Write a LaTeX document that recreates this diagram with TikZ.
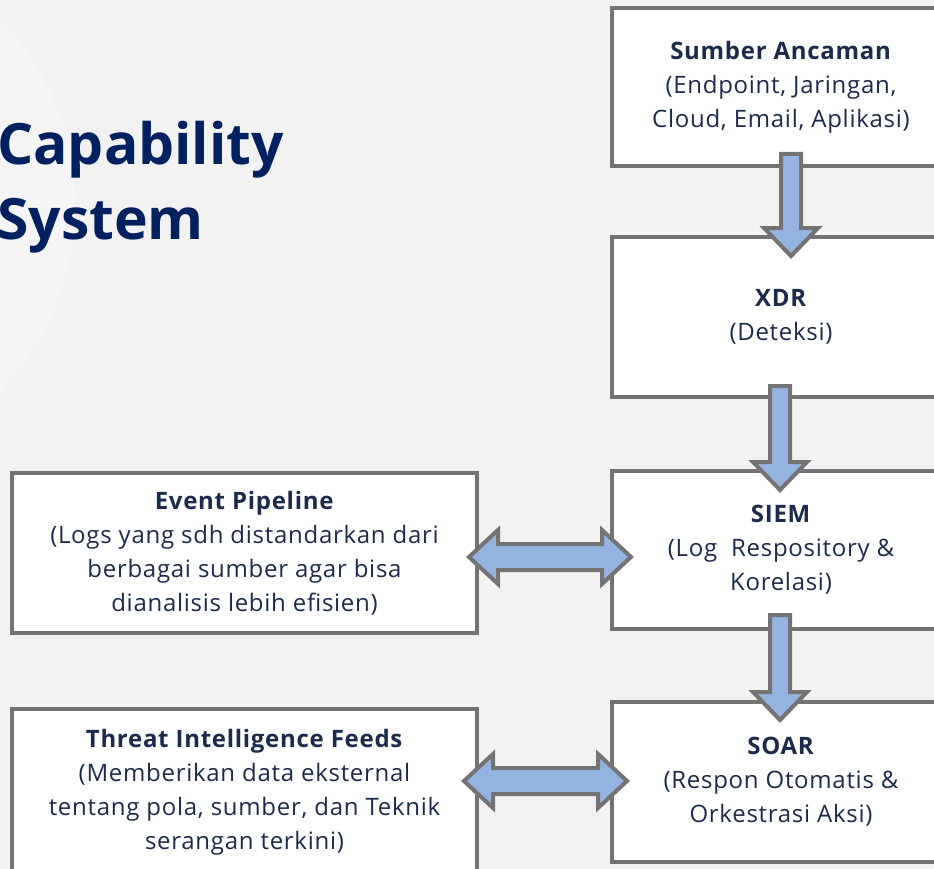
\documentclass[tikz,border=0pt]{standalone}
\usepackage{fontspec}
\setmainfont{Open Sans}
\newfontfamily\boxfont[LetterSpace=3]{Open Sans}
\usepackage{xcolor}
\usetikzlibrary{calc}

\definecolor{pagebg}{HTML}{F2F2F2}
\definecolor{titleblue}{HTML}{002060}
\definecolor{inktext}{HTML}{1C2B4B}
\definecolor{edgegray}{HTML}{737373}
\definecolor{arrowblue}{HTML}{95B3E0}

\tikzset{
  box/.style={draw=edgegray, line width=4.5pt, fill=white, align=center,
    text=inktext, font=\boxfont\fontsize{24}{34}\selectfont, inner sep=0pt},
  blockarrow/.style={draw=edgegray, line width=4pt, fill=arrowblue, line join=miter},
  titletext/.style={text=titleblue, font=\fontsize{57}{75}\selectfont\bfseries,
    anchor=base west, inner sep=0pt}
}

% down block arrow: x, shaft top, tip
\newcommand{\blockdown}[3]{%
  \draw[blockarrow] ({#1-10},#2) -- ({#1+10},#2) -- ({#1+10},{#3-28})
    -- ({#1+27},{#3-28}) -- (#1,#3) -- ({#1-27},{#3-28}) -- ({#1-10},{#3-28}) -- cycle;}
% double block arrow: y, left tip, right tip
\newcommand{\blockboth}[3]{%
  \draw[blockarrow] (#2,#1) -- ({#2+29},{#1-27}) -- ({#2+29},{#1-13})
    -- ({#3-29},{#1-13}) -- ({#3-29},{#1-27}) -- (#3,#1) -- ({#3-29},{#1+27})
    -- ({#3-29},{#1+13}) -- ({#2+29},{#1+13}) -- ({#2+29},{#1+27}) -- cycle;}

\begin{document}
\begin{tikzpicture}[x=1pt, y=-1pt]

  % page and clipping
  \fill[pagebg] (0,0) rectangle (934,869);
  \useasboundingbox (0,0) rectangle (934,869);
  \clip (0,0) rectangle (934,869);
  \fill[white, opacity=0.3] (-191,205) circle [radius=266pt];

  % title
  \node[titletext] (captitle) at (-3,165) {Capability};
  \node[titletext] (systitle) at (-3,240) {System};

  % right column
  \node[box, minimum width=338pt, minimum height=158pt] (source) at (781,87)
    {\textbf{Sumber Ancaman}\\(Endpoint, Jaringan,\\Cloud, Email, Aplikasi)};
  \node[box, minimum width=338pt, minimum height=160pt] (xdr) at (781,317)
    {\textbf{XDR}\\(Deteksi)};
  \node[box, minimum width=338pt, minimum height=158pt] (siem) at (781,550)
    {\textbf{SIEM}\\(Log\ \ Respository \&\\Korelasi)};
  \node[box, minimum width=338pt, minimum height=160pt] (soar) at (781,782)
    {\textbf{SOAR}\\(Respon Otomatis \&\\Orkestrasi Aksi)};

  % left column
  \node[box, minimum width=465pt, minimum height=160pt] (pipeline) at (244.5,553)
    {\textbf{Event Pipeline}\\(Logs yang sdh distandarkan dari\\berbagai sumber agar bisa\\dianalisis lebih efisien)};
  \node[box, minimum width=465pt, minimum height=166pt] (feeds) at (244.5,792)
    {\textbf{Threat Intelligence Feeds}\\(Memberikan data eksternal\\tentang pola, sumber, dan Teknik\\serangan terkini)};

  % arrows
  \blockdown{791}{154}{256}
  \blockdown{780}{386}{490}
  \blockdown{780}{615}{720}
  \blockboth{557}{469}{631}
  \blockboth{781}{464}{627}

\end{tikzpicture}
\end{document}
